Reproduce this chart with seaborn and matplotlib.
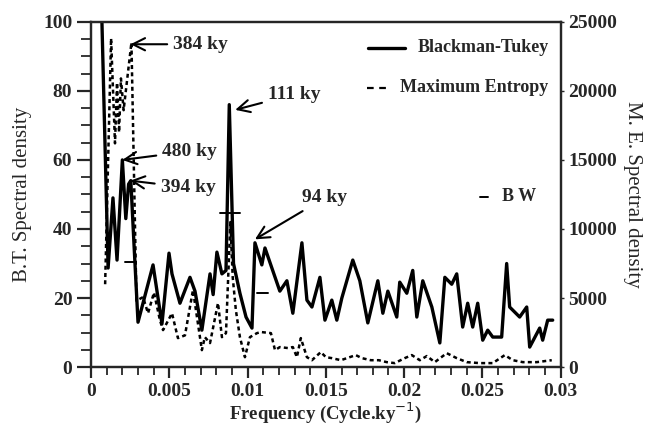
import matplotlib

matplotlib.use("Agg")

import matplotlib.pyplot as plt
import numpy as np
import pandas as pd
import seaborn as sns
from matplotlib.ticker import MultipleLocator

# Blackman-Tukey spectrum (left axis)
bt_freq = [0.00064, 0.00109, 0.00140, 0.00166, 0.00200, 0.00222, 0.00240, 0.00254,
           0.00275, 0.00300, 0.00396, 0.00453, 0.00498, 0.00517, 0.00568, 0.00632,
           0.00664, 0.00708, 0.00760, 0.00780, 0.00804, 0.00836, 0.00862, 0.00883,
           0.00910, 0.00951, 0.00990, 0.01028, 0.01047, 0.01091, 0.01111, 0.01206,
           0.01251, 0.01289, 0.01347, 0.01379, 0.01411, 0.01462, 0.01494, 0.01538,
           0.01570, 0.01602, 0.01672, 0.01717, 0.01768, 0.01832, 0.01864, 0.01896,
           0.01953, 0.01972, 0.02017, 0.02055, 0.02081, 0.02119, 0.02177, 0.02228,
           0.02260, 0.02304, 0.02336, 0.02374, 0.02406, 0.02438, 0.02470, 0.02502,
           0.02534, 0.02566, 0.02623, 0.02655, 0.02674, 0.02738, 0.02783, 0.02802,
           0.02866, 0.02885, 0.02917, 0.02949]
bt_density = [110, 28.7, 49, 31, 60, 43, 53, 54,
              35, 13, 29.6, 12.5, 33, 27, 18.5, 26,
              22, 10.7, 27, 21, 33.3, 27, 28, 76,
              30, 21.4, 14.5, 11.3, 36, 29.6, 34.5, 22,
              25, 15.6, 36, 19.4, 17.4, 26, 13.6, 19.4,
              13.6, 20, 31, 25, 12.8, 25, 15.6, 22,
              14.5, 24.6, 21.4, 28, 14.5, 25, 17.4, 7,
              26, 24, 27, 11.6, 18.5, 11.6, 18.5, 7.8,
              10.7, 8.7, 8.7, 30, 17.4, 14.5, 17.4, 5.8,
              11.3, 7.8, 13.6, 13.6]

# Maximum Entropy spectrum (right axis)
me_freq = [0.00090, 0.00128, 0.00153, 0.00166, 0.00179, 0.00191, 0.00208, 0.00258,
           0.00290, 0.00332, 0.00364, 0.00402, 0.00440, 0.00460, 0.00517, 0.00555,
           0.00600, 0.00651, 0.00708, 0.00727, 0.00760, 0.00811, 0.00836, 0.00862,
           0.00876, 0.00890, 0.00905, 0.00925, 0.00951, 0.00983, 0.01015, 0.01060,
           0.01085, 0.01149, 0.01175, 0.01206, 0.01257, 0.01289, 0.01315, 0.01340,
           0.01379, 0.01411, 0.01468, 0.01500, 0.01538, 0.01596, 0.01691, 0.01730,
           0.01787, 0.01838, 0.01889, 0.01940, 0.02004, 0.02049, 0.02100, 0.02145,
           0.02196, 0.02272, 0.02336, 0.02400, 0.02483, 0.02566, 0.02643, 0.02694,
           0.02758, 0.02847, 0.02943]
me_density = [6000, 23800, 16200, 20600, 17000, 20900, 18600, 23500,
              4800, 5070, 3900, 5400, 3400, 2680, 3900, 2100,
              2300, 5580, 1230, 2170, 1740, 4640, 2170, 2460,
              6500, 10500, 6500, 4130, 2170, 720, 2170, 2460,
              2540, 2460, 1230, 1450, 1380, 1450, 720, 2100,
              720, 500, 1090, 720, 650, 500, 870, 650,
              500, 500, 360, 290, 650, 870, 500, 800,
              360, 1010, 650, 360, 290, 290, 870, 500,
              360, 360, 500]

# bandwidth bars: centre frequency, half width, level (B.T. units)
bw_center = [0.00249, 0.00889, 0.01095]
bw_half = [0.00035, 0.00064, 0.00035]
bw_level = [30.4, 44.6, 21.4]

peak_labels = ["384 ky", "480 ky", "394 ky", "111 ky", "94 ky"]
peak_tips = [(0.00252, 93.5), (0.00200, 60), (0.00250, 54), (0.00921, 74.5), (0.01047, 37)]
peak_text = [(0.00525, 93.5), (0.00455, 62.5), (0.00445, 52), (0.01130, 79), (0.01350, 49)]

bt = pd.DataFrame({"freq": bt_freq, "density": bt_density})
me = pd.DataFrame({"freq": me_freq, "density": me_density})

sns.set_style("ticks")
plt.rcParams["font.family"] = ["Liberation Serif", "DejaVu Serif"]
plt.rcParams["axes.linewidth"] = 1.6

fig = plt.figure(figsize=(6.55, 4.36), dpi=100)
ax = fig.add_axes([0.139, 0.158, 0.717, 0.792])
ax2 = ax.twinx()

sns.lineplot(data=bt, x="freq", y="density", ax=ax, color="black", linewidth=2.4,
             estimator=None, sort=False, legend=False)
sns.lineplot(data=me, x="freq", y="density", ax=ax2, color="black", linewidth=1.8,
             estimator=None, sort=False, legend=False)
ax2.lines[0].set_dashes([1.6, 1.3])

for c, h, lv in zip(bw_center, bw_half, bw_level):
    ax.plot([c - h, c + h], [lv, lv], color="black", linewidth=1.4)

ax.set_xlim(0, 0.03)
ax.set_ylim(0, 100)
ax2.set_ylim(0, 25000)
ax.set_xticks([0, 0.005, 0.01, 0.015, 0.02, 0.025, 0.03])
ax.set_xticklabels(["0", "0.005", "0.01", "0.015", "0.02", "0.025", "0.03"])
ax.xaxis.set_minor_locator(MultipleLocator(0.001))
ax.yaxis.set_major_locator(MultipleLocator(20))
ax.yaxis.set_minor_locator(MultipleLocator(5))
ax2.yaxis.set_major_locator(MultipleLocator(5000))
ax.tick_params(axis="x", which="major", length=8, width=1.6, direction="out")
ax.tick_params(axis="x", which="minor", length=5.5, width=1.3, direction="out")
ax.tick_params(axis="y", which="major", length=10, width=1.6, direction="out")
ax.tick_params(axis="y", which="minor", length=7, width=1.3, direction="out")
ax2.tick_params(axis="y", length=2, width=1)
for lab in ax.get_xticklabels() + ax.get_yticklabels() + ax2.get_yticklabels():
    lab.set_fontsize(14)
    lab.set_fontweight("bold")

ax.set_xlabel("Frequency (Cycle.ky$^{-1}$)", fontsize=13.5, fontweight="bold", labelpad=0)
ax.set_ylabel("B.T. Spectral density", fontsize=15, labelpad=8)
ax2.set_ylabel("M. E. Spectral density", fontsize=15, rotation=270, labelpad=18)
for sp in ax2.spines.values():
    sp.set_linewidth(1.6)

# legend drawn as lines + text
ax.plot([0.01768, 0.02004], [92.5, 92.5], color="black", linewidth=2.4)
ax.text(0.02087, 92.5, "Blackman-Tukey", fontsize=13, fontweight="bold", va="center")
ax.plot([0.01762, 0.01896], [80.9, 80.9], color="black", linewidth=1.6, dashes=[3, 2.5])
ax.text(0.01972, 80.9, "Maximum Entropy", fontsize=13, fontweight="bold", va="center")
ax.plot([0.02483, 0.02534], [49.3, 49.3], color="black", linewidth=1.4)
ax.text(0.02623, 49.3, "B W", fontsize=13, fontweight="bold", va="center")

for lab, tip, txt in zip(peak_labels, peak_tips, peak_text):
    ax.annotate(lab, xy=tip, xytext=txt, fontsize=14, fontweight="bold",
                ha="left", va="center",
                arrowprops=dict(arrowstyle="->", color="black", lw=1.5,
                                mutation_scale=22, shrinkA=2, shrinkB=0))

fig.savefig("out.png", dpi=100)
